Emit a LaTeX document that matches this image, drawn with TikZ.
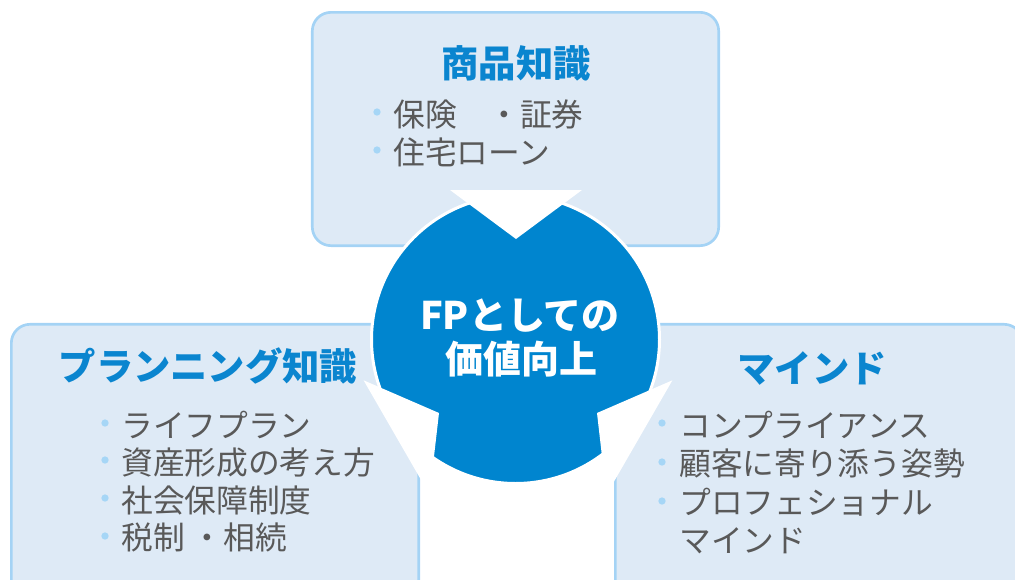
\documentclass[tikz,border=0pt]{standalone}
\usepackage{fontspec}
\setmainfont{Noto Sans CJK JP}
\definecolor{boxfill}{HTML}{DEEAF6}
\definecolor{boxline}{HTML}{A4D3F5}
\definecolor{mainblue}{HTML}{0085CF}
\definecolor{titleblue}{HTML}{0A85CF}
\definecolor{bodygray}{HTML}{595959}
\definecolor{dotblue}{HTML}{A6D6F6}
\begin{document}
\begin{tikzpicture}[x=0.75pt,y=-0.75pt,
  box/.style={draw=boxline, fill=boxfill, line width=2pt, rounded corners=14pt, inner sep=0pt},
  title/.style={text=titleblue, font=\fontsize{28}{34}\selectfont\bfseries, inner sep=0pt, text height=24.6pt, text depth=3.4pt},
  item/.style={text=bodygray, font=\fontsize{23.8}{28.5}\selectfont, inner sep=0pt, anchor=west, text height=20.9pt, text depth=2.9pt},
  dot/.style={circle, fill=dotblue, minimum size=5.5pt, inner sep=0pt},
  ctext/.style={text=white, font=\fontsize{28.5}{34}\selectfont\bfseries, inner sep=0pt, text height=25.1pt, text depth=3.4pt},
  notch/.style={fill=white}]
\useasboundingbox (0,0) rectangle (1015,579);
\clip (0,0) rectangle (1015,579);

% boxes
\node[box, minimum width=304.8pt, minimum height=175pt] (topbox) at (515.5,129) {};
\node[box, minimum width=305.5pt, minimum height=213.3pt] (leftbox) at (215,466.5) {};
\node[box, minimum width=305.5pt, minimum height=213.3pt] (rightbox) at (819,466.5) {};

% centre circle
\node[circle, fill=mainblue, draw=white, line width=2.25pt, minimum size=216pt, inner sep=0pt] (core) at (515.5,339.5) {};

% notches
\coordinate (tA) at (450,190);
\coordinate (tB) at (582,190);
\coordinate (tP) at (516,239);
\fill[notch] (tA) -- (tP) -- (tB) -- cycle;
\coordinate (lA) at (363.6,380.3);
\coordinate (lP) at (439,413);
\coordinate (lB) at (429.6,494.7);
\fill[notch] (lA) -- (lP) -- (lB) -- cycle;
\coordinate (rA) at (672.4,380.3);
\coordinate (rP) at (597,413);
\coordinate (rB) at (606.4,494.7);
\fill[notch] (rA) -- (rP) -- (rB) -- cycle;

% centre text
\node[ctext] (c1) at (520,315) {FPとしての};
\node[ctext] (c2) at (521,359) {価値向上};

% top box
\node[title] (t0) at (516,63) {商品知識};
\node[dot] (td1) at (377,112) {};
\node[dot] (td2) at (377,150) {};
\node[item] (t1) at (393,114) {保険　・証券};
\node[item] (t2) at (393,152) {住宅ローン};

% left box
\node[title] (l0) at (208,366) {プランニング知識};
\node[dot] (ld1) at (105,423) {};
\node[dot] (ld2) at (105,460) {};
\node[dot] (ld3) at (105,498) {};
\node[dot] (ld4) at (105,536) {};
\node[item] (l1) at (121,425) {ライフプラン};
\node[item] (l2) at (121,462) {資産形成の考え方};
\node[item] (l3) at (121,500) {社会保障制度};
\node[item] (l4) at (121,537.5) {税制 ・相続};

% right box
\node[title] (r0) at (812,368) {マインド};
\node[dot] (rd1) at (662,423) {};
\node[dot] (rd2) at (662,462) {};
\node[dot] (rd3) at (662,501) {};
\node[item] (r1) at (679,425) {コンプライアンス};
\node[item] (r2) at (679,463) {顧客に寄り添う姿勢};
\node[item] (r3) at (679,502) {プロフェショナル};
\node[item] (r4) at (679,540) {マインド};
\end{tikzpicture}
\end{document}
